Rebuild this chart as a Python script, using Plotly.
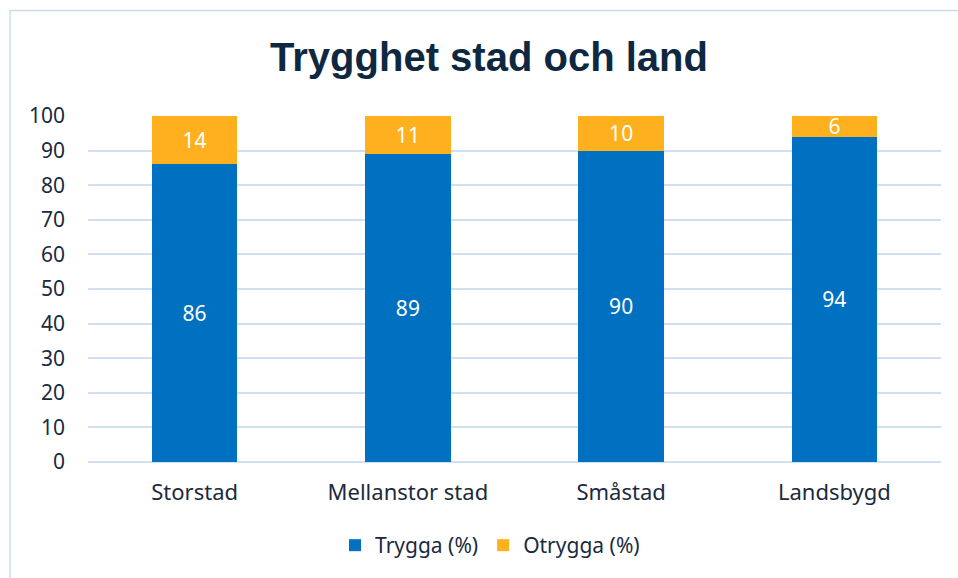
import plotly.graph_objects as go

categories = ["Storstad", "Mellanstor stad", "Småstad", "Landsbygd"]
trygga = [86, 89, 90, 94]
otrygga = [14, 11, 10, 6]
series_names = ["Trygga (%)", "Otrygga (%)"]
y_ticks = [0, 10, 20, 30, 40, 50, 60, 70, 80, 90, 100]

BLUE = "#0070C0"
ORANGE = "#FFB01F"
NAVY = "#0E2841"
TICK = "#1B2A3D"
GRID = "#CFE0F3"
FONT = "Noto Sans, Open Sans, sans-serif"
TFONT = "Liberation Sans, Arial, sans-serif"

L, R, T, B = 88, 941, 116, 464
PW, PH = R - L, B - T

fig = go.Figure()
for name, vals, col in [(series_names[0], trygga, BLUE), (series_names[1], otrygga, ORANGE)]:
    fig.add_trace(go.Bar(
        x=categories, y=vals, name=name,
        marker=dict(color=col, line=dict(width=0)),
        text=[str(v) for v in vals],
        textposition="inside", insidetextanchor="middle",
        constraintext="none", textangle=0,
        textfont=dict(color="white", size=21, family=FONT),
        hoverinfo="skip",
    ))

fig.update_layout(
    barmode="stack",
    bargap=0.6,
    width=958, height=578,
    margin=dict(l=L, r=958 - R, t=T, b=578 - B),
    paper_bgcolor="white", plot_bgcolor="white",
    font=dict(family=FONT, color=TICK, size=20),
    title=dict(text="<b>Trygghet stad och land</b>", x=489 / 958, xanchor="center", xref="container",
               y=1 - 57 / 578, yanchor="middle", yref="container",
               font=dict(size=40, color=NAVY, family=TFONT)),
    showlegend=True,
    legend=dict(orientation="h", x=(490 - L) / PW, xanchor="center", y=-(548 - B) / PH, yanchor="middle",
                font=dict(size=21, color=TICK, family=FONT), itemwidth=30, traceorder="normal",
                bgcolor="rgba(0,0,0,0)"),
    shapes=[dict(type="rect", xref="paper", yref="paper",
                 x0=(10 - L) / PW, x1=1 + (980 - R) / PW, y0=-(600 - B) / PH, y1=1 + (T - 10) / PH,
                 line=dict(color="#C9DCF0", width=1.5), layer="below")],
)
fig.update_yaxes(range=[0, 100], tickvals=y_ticks, showgrid=True, gridcolor=GRID,
                 gridwidth=1.5, zeroline=True, zerolinecolor=GRID, zerolinewidth=1.5,
                 showline=False, ticks="", ticklabelstandoff=22,
                 tickfont=dict(size=21, color=TICK, family=FONT))
fig.update_xaxes(showline=False, ticks="", tickfont=dict(size=22, color=TICK, family=FONT),
                 ticklabelstandoff=15)

fig.write_html("out.html", config={"displayModeBar": False},
               post_script="document.body.style.margin='0';document.body.style.padding='0';")
